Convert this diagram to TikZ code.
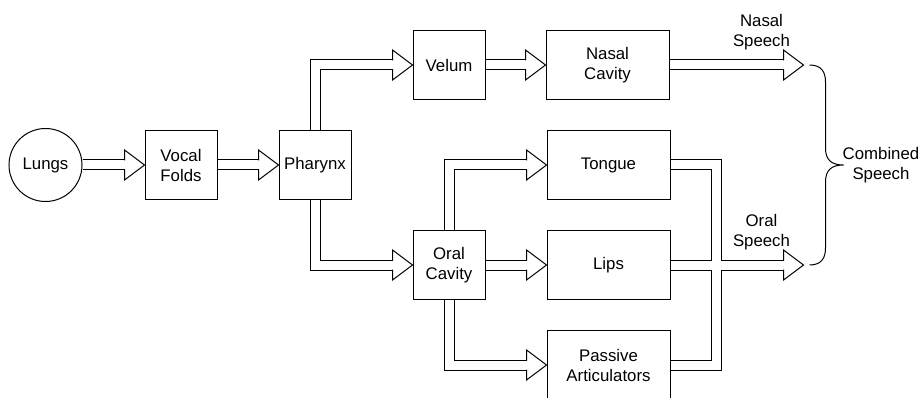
\documentclass[tikz,border=0pt]{standalone}
\usepackage{fontspec}
\setmainfont{Liberation Sans}
\usepackage{tikz}
\usetikzlibrary{positioning, calc}
\tikzstyle{pipe} = [double, double distance=9pt, line width=1pt, line join=miter, shorten >=20pt]
\tikzstyle{head} = [line width=1pt, line join=miter]

\begin{document}
\begin{tikzpicture}[
    node distance=61pt,
    font=\fontsize{16.8}{20}\selectfont,
    box/.style={
        rectangle,
        draw,
        line width=1pt,
        minimum width=72pt,
        minimum height=69pt,
        align=center,
        inner sep=1pt
    },
    wide/.style={box, minimum width=123pt},
    lbl/.style={align=center, inner sep=0pt}
]
    \useasboundingbox (0,0) rectangle (923pt,-398pt);

    \node[circle, draw, line width=1pt, minimum size=73pt, inner sep=0pt]
        (lungs) at (45.5pt,-165pt) {Lungs};
    \node[box, right=62pt of lungs] (vocal) {Vocal\\Folds};
    \node[box, right=of vocal] (pharynx) {Pharynx};
    \node[box, above right=30pt and 61pt of pharynx] (velum) {Velum};
    \node[box, below right=30pt and 61pt of pharynx] (oral) {Oral\\Cavity};
    \node[wide, right=60pt of velum] (nasal) {Nasal\\Cavity};
    \node[wide, above right=30pt and 61pt of oral] (tongue) {Tongue};
    \node[wide, right=of oral] (lips) {Lips};
    \node[wide, below right=30pt and 61pt of oral] (passive) {Passive\\Articulators};

    \coordinate (nasalend) at ([xshift=134pt]nasal.east);
    \coordinate (oralend) at (nasalend |- lips.east);
    \coordinate (merge) at ([xshift=46pt]lips.east);

    \draw[pipe] (lungs) -- (vocal);
    \draw[pipe] (vocal) -- (pharynx);
    \draw[pipe] (pharynx.north) |- (velum);
    \draw[pipe] (pharynx.south) |- (oral);
    \draw[pipe] (velum) -- (nasal);
    \draw[pipe] (oral.north) |- (tongue);
    \draw[pipe] (oral) -- (lips);
    \draw[pipe] (oral.south) |- (passive);
    \draw[pipe] (nasal) -- (nasalend);
    \draw[pipe] (tongue.east) -| (merge) (passive.east) -| (merge)
        (lips.east) -- (oralend);

    \foreach \t in {vocal.west, pharynx.west, velum.west, oral.west, nasal.west,
                    tongue.west, lips.west, passive.west, nasalend, oralend}
        \draw[head] (\t) ++(-20pt,4.5pt) -- ++(0,10.5pt) -- (\t)
            -- ++(-20pt,-15pt) -- ++(0,10.5pt);

    \node[lbl, above=15pt of nasalend, xshift=-42pt] (nasalsp) {Nasal\\Speech};
    \node[lbl, above=15pt of oralend, xshift=-42pt] (oralsp) {Oral\\Speech};

    \coordinate (bracetop) at ([xshift=6pt]nasalend);
    \coordinate (bracebot) at ([xshift=6pt]oralend);
    \coordinate (bracetip) at ($(bracetop)!.5!(bracebot)+(34pt,0)$);
    \draw[line width=1pt] (bracetop) .. controls +(12pt,0) and +(0,10pt) .. ++(16pt,-17pt)
        -- ($(bracetip)+(-18pt,17pt)$) .. controls +(0,-12pt) and +(-12pt,0) .. (bracetip)
        .. controls +(-12pt,0) and +(0,12pt) .. ++(-18pt,-17pt)
        -- ($(bracebot)+(16pt,17pt)$) .. controls +(0,-10pt) and +(12pt,0) .. (bracebot);
    \node[lbl, anchor=west, xshift=-1pt] (combined) at (bracetip) {Combined\\Speech};
\end{tikzpicture}
\end{document}
